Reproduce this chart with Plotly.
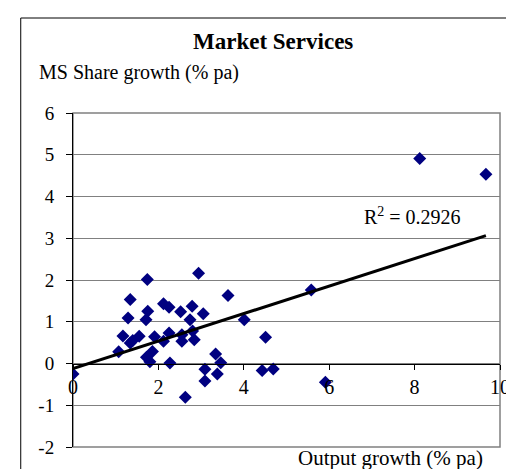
import numpy as np
import plotly.graph_objects as go

# output growth (% pa) vs MS share growth (% pa)
output_growth = [0.0, 1.07, 1.17, 1.34, 1.29, 1.34, 1.40, 1.55, 1.74, 1.75,
                 1.71, 1.72, 1.80, 1.86, 1.91, 2.12, 2.25, 2.25, 2.12, 2.27,
                 2.52, 2.55, 2.55, 2.79, 2.74, 2.84, 2.80, 2.94, 3.05, 3.63,
                 4.01, 4.51, 3.34, 3.46, 3.09, 3.38, 3.09, 2.63, 4.43, 4.69,
                 5.58, 5.91, 8.12, 9.67]
share_growth = [-0.25, 0.28, 0.66, 1.53, 1.09, 0.49, 0.55, 0.65, 2.01, 1.25,
                1.05, 0.15, 0.04, 0.29, 0.64, 1.43, 1.35, 0.73, 0.53, 0.01,
                1.24, 0.69, 0.53, 1.37, 1.05, 0.57, 0.78, 2.16, 1.19, 1.63,
                1.05, 0.63, 0.23, 0.02, -0.14, -0.25, -0.42, -0.81, -0.17, -0.13,
                1.76, -0.45, 4.91, 4.53]
y_ticks = [-2, -1, 0, 1, 2, 3, 4, 5, 6]
x_ticks = [0, 2, 4, 6, 8, 10]
r2_label = "R<sup>2</sup> = 0.2926"

W, H = 514, 469
ml, mr, mt, mb = 65, 16, 105, 30
pw, ph = W - ml - mr, H - mt - mb

def px_x(p):
    return (p - ml) / pw

def px_y(p):
    return (H - mb - p) / ph

slope, icpt = np.polyfit(output_growth, share_growth, 1)
tx = np.array([min(output_growth), max(output_growth)])

serif = "Liberation Serif, Times New Roman, serif"

fig = go.Figure()
fig.add_trace(go.Scatter(x=output_growth, y=share_growth, mode="markers",
                         marker=dict(symbol="diamond", size=10, color="#000080"),
                         showlegend=False))
fig.add_trace(go.Scatter(x=tx, y=icpt + slope * tx, mode="lines",
                         line=dict(color="black", width=3), showlegend=False))

fig.update_layout(
    width=W, height=H,
    margin=dict(l=ml, r=mr, t=mt, b=mb),
    paper_bgcolor="white", plot_bgcolor="white",
    font=dict(family=serif, color="black", size=18),
    xaxis=dict(range=[0, 10], tickvals=x_ticks, ticktext=[str(v) for v in x_ticks],
               anchor="free", position=0.25,
               showgrid=False, zeroline=False, showline=True, linecolor="black",
               linewidth=1, ticks="outside", ticklen=5, tickcolor="black",
               ticklabelstandoff=0, tickfont=dict(family=serif, size=20)),
    yaxis=dict(range=[-2, 6], tickvals=y_ticks, ticktext=[str(v) for v in y_ticks],
               showgrid=True, gridcolor="#808080",
               zeroline=False, showline=True, linecolor="black", linewidth=1,
               ticks="outside", ticklen=6, tickcolor="black",
               ticklabelstandoff=8, tickfont=dict(family=serif, size=19)),
    shapes=[
        dict(type="rect", xref="paper", yref="paper", x0=0, x1=1, y0=0, y1=1,
             line=dict(color="#808080", width=1.5), layer="below"),
        dict(type="rect", xref="paper", yref="paper",
             x0=px_x(12), x1=px_x(513), y0=px_y(490), y1=px_y(10),
             line=dict(color="black", width=1)),
    ],
    annotations=[
        dict(text="<b>Market Services</b>", xref="paper", yref="paper",
             x=px_x(268), y=px_y(33), xanchor="center", yanchor="middle",
             showarrow=False, font=dict(size=23)),
        dict(text="MS Share growth (% pa)", xref="paper", yref="paper",
             x=px_x(29), y=px_y(65), xanchor="left", yanchor="middle",
             showarrow=False, font=dict(size=20)),
        dict(text="Output growth (% pa)", xref="paper", yref="paper",
             x=px_x(483), y=px_y(450), xanchor="right", yanchor="middle",
             showarrow=False, font=dict(size=21)),
        dict(text=r2_label, xref="paper", yref="paper",
             x=px_x(358), y=px_y(208), xanchor="left", yanchor="middle",
             showarrow=False, font=dict(size=20)),
    ],
)

fig.write_html("out.html")
